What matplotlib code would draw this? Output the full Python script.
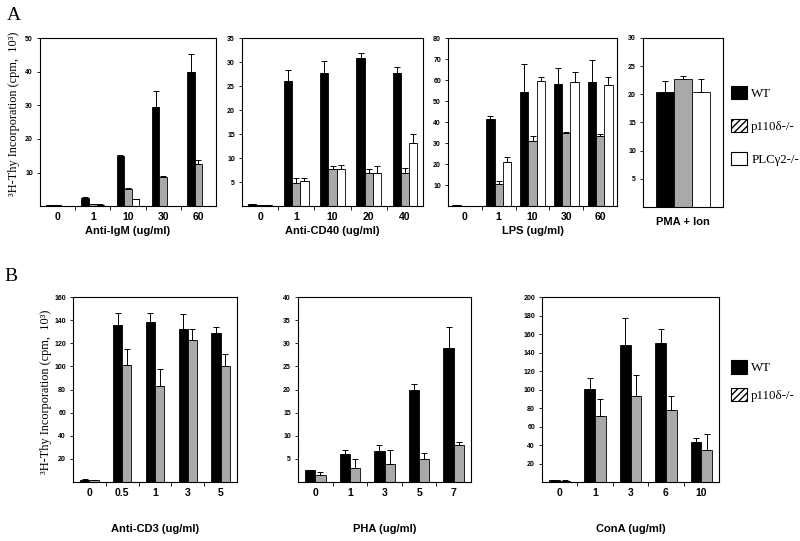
import matplotlib.pyplot as plt
from matplotlib.patches import Patch
import numpy as np

plt.rcParams.update({
    'font.family': 'Liberation Sans',
    'font.weight': 'bold',
    'axes.linewidth': 0.8,
})

SERIF = 'Liberation Serif'
BLACK = '#000000'
GRAY = '#a9a9a9'
WHITE = '#ffffff'

# ---- Panel A data (WT, p110d-/-, PLCg2-/-) ----
igm_doses = ['0', '1', '10', '30', '60']
igm_wt = [0.3, 2.4, 14.8, 29.5, 39.8]
igm_wt_err = [0.1, 0.4, 0.5, 4.9, 5.6]
igm_p110 = [0.2, 0.6, 5.0, 8.7, 12.4]
igm_p110_err = [0.1, 0.1, 0.3, 0.3, 1.4]
igm_plc = [0.0, 0.4, 2.0, 0.0, 0.0]
igm_plc_err = [0.0, 0.1, 0.0, 0.0, 0.0]

cd40_doses = ['0', '1', '10', '20', '40']
cd40_wt = [0.5, 26.1, 27.8, 30.8, 27.8]
cd40_wt_err = [0.0, 2.2, 2.5, 1.2, 1.2]
cd40_p110 = [0.3, 4.9, 7.7, 7.0, 7.0]
cd40_p110_err = [0.0, 0.9, 0.6, 0.7, 1.0]
cd40_plc = [0.2, 5.2, 7.8, 7.0, 13.1]
cd40_plc_err = [0.0, 0.6, 0.7, 1.3, 1.9]

lps_doses = ['0', '1', '10', '30', '60']
lps_wt = [0.3, 41.5, 54.4, 58.2, 59.3]
lps_wt_err = [0.0, 1.3, 13.3, 7.6, 10.4]
lps_p110 = [0.0, 10.6, 30.9, 34.9, 33.6]
lps_p110_err = [0.0, 1.3, 2.4, 0.3, 0.6]
lps_plc = [0.0, 20.9, 59.7, 59.3, 57.5]
lps_plc_err = [0.0, 2.6, 1.6, 4.6, 4.0]

pma_doses = ['']
pma_wt = [20.4]
pma_wt_err = [1.9]
pma_p110 = [22.8]
pma_p110_err = [0.4]
pma_plc = [20.4]
pma_plc_err = [2.4]

# ---- Panel B data (WT, p110d-/-) ----
cd3_doses = ['0', '0.5', '1', '3', '5']
cd3_wt = [2.0, 135.4, 138.3, 132.6, 128.5]
cd3_wt_err = [1.0, 11.0, 8.1, 12.9, 5.5]
cd3_p110 = [1.5, 100.9, 82.7, 123.0, 100.6]
cd3_p110_err = [0.3, 14.1, 15.0, 9.3, 10.4]

pha_doses = ['0', '1', '3', '5', '7']
pha_wt = [2.5, 6.0, 6.75, 19.8, 28.9]
pha_wt_err = [0.2, 1.0, 1.25, 1.5, 4.7]
pha_p110 = [1.5, 3.0, 4.0, 5.0, 8.0]
pha_p110_err = [0.6, 2.0, 3.0, 1.2, 0.7]

cona_doses = ['0', '1', '3', '6', '10']
cona_wt = [2.0, 100.2, 147.7, 150.3, 43.2]
cona_wt_err = [0.3, 12.2, 30.0, 14.7, 4.4]
cona_p110 = [1.5, 71.7, 93.0, 77.8, 35.0]
cona_p110_err = [0.3, 18.0, 22.7, 15.2, 17.0]


def draw_panel(ax, doses, series, ymax, ystep, width, xlabel, labelpad):
    """Clustered bar chart with one-sided error bars, Excel style"""
    n = len(series)
    x = np.arange(len(doses))
    for i, (vals, errs, color) in enumerate(series):
        pos = x + (i - (n - 1) / 2) * width
        ax.bar(pos, vals, width, color=color, edgecolor='black', lw=0.6, zorder=2)
        ax.errorbar(pos, vals, yerr=[np.zeros(len(errs)), errs], fmt='none',
                    ecolor='black', elinewidth=0.7, capsize=2.2, capthick=0.7, zorder=3)
    ax.set_xlim(-0.5, len(doses) - 0.5)
    ax.set_ylim(0, ymax)
    ax.set_yticks(np.arange(ystep, ymax + ystep / 2, ystep))
    ax.tick_params(axis='y', labelsize=5, length=2, width=0.6, pad=3)
    ax.set_xticks(x)
    ax.set_xticklabels(doses)
    ax.set_xticks(np.arange(0.5, len(doses) - 0.5, 1), minor=True)
    ax.tick_params(axis='x', which='major', length=0, labelsize=7.5, pad=4)
    ax.tick_params(axis='x', which='minor', length=3, width=0.6)
    ax.set_xlabel(xlabel, fontsize=8, fontweight='bold', labelpad=labelpad)


fig = plt.figure(figsize=(8, 5.41), dpi=100)

axA1 = fig.add_axes([0.05, 0.619, 0.22, 0.3105])
axA2 = fig.add_axes([0.3025, 0.619, 0.22625, 0.3105])
axA3 = fig.add_axes([0.56, 0.619, 0.21125, 0.3105])
axA4 = fig.add_axes([0.80375, 0.6174, 0.1, 0.3124])
axB1 = fig.add_axes([0.09125, 0.109, 0.205, 0.342])
axB2 = fig.add_axes([0.3725, 0.109, 0.21625, 0.342])
axB3 = fig.add_axes([0.6775, 0.109, 0.22125, 0.342])

draw_panel(axA1, igm_doses, [(igm_wt, igm_wt_err, BLACK), (igm_p110, igm_p110_err, GRAY),
                             (igm_plc, igm_plc_err, WHITE)], 50, 10, 0.215, 'Anti-IgM (ug/ml)', 3)
draw_panel(axA2, cd40_doses, [(cd40_wt, cd40_wt_err, BLACK), (cd40_p110, cd40_p110_err, GRAY),
                              (cd40_plc, cd40_plc_err, WHITE)], 35, 5, 0.225, 'Anti-CD40 (ug/ml)', 3)
draw_panel(axA3, lps_doses, [(lps_wt, lps_wt_err, BLACK), (lps_p110, lps_p110_err, GRAY),
                             (lps_plc, lps_plc_err, WHITE)], 80, 10, 0.245, 'LPS (ug/ml)', 3)
draw_panel(axA4, pma_doses, [(pma_wt, pma_wt_err, BLACK), (pma_p110, pma_p110_err, GRAY),
                             (pma_plc, pma_plc_err, WHITE)], 30, 5, 0.225, 'PMA + Ion', 3)
draw_panel(axB1, cd3_doses, [(cd3_wt, cd3_wt_err, BLACK), (cd3_p110, cd3_p110_err, GRAY)],
           160, 20, 0.28, 'Anti-CD3 (ug/ml)', 19)
draw_panel(axB2, pha_doses, [(pha_wt, pha_wt_err, BLACK), (pha_p110, pha_p110_err, GRAY)],
           40, 5, 0.3, 'PHA (ug/ml)', 19)
draw_panel(axB3, cona_doses, [(cona_wt, cona_wt_err, BLACK), (cona_p110, cona_p110_err, GRAY)],
           200, 20, 0.3, 'ConA (ug/ml)', 19)

ylabel = '\u00b3H-Thy Incorporation (cpm,  10\u00b3)'
fig.text(0.017, 1 - 114 / 541, ylabel, rotation=90, ha='center', va='center',
         family=SERIF, fontweight='normal', fontsize=8.8)
fig.text(0.057, 1 - 392 / 541, ylabel, rotation=90, ha='center', va='center',
         family=SERIF, fontweight='normal', fontsize=8.8)

fig.text(0.008, 0.972, 'A', family=SERIF, fontweight='normal', fontsize=14, va='center')
fig.text(0.005, 0.488, 'B', family=SERIF, fontweight='normal', fontsize=14, va='center')

handles_a = [Patch(fc=BLACK, ec='black', lw=0.8),
             Patch(fc=WHITE, ec='black', hatch='/////', lw=0.8),
             Patch(fc=WHITE, ec='black', lw=0.8)]
labels_a = ['WT', 'p110\u03b4-/-', 'PLC\u03b32-/-']
fig.legend(handles_a, labels_a, loc='upper left', bbox_to_anchor=(0.914, 0.841),
           frameon=False, prop={'family': SERIF, 'size': 9.3, 'weight': 'normal'},
           handlelength=1.2, handleheight=1.2, handletextpad=0.35, labelspacing=1.47,
           borderpad=0, borderaxespad=0)

fig.legend(handles_a[:2], labels_a[:2], loc='upper left', bbox_to_anchor=(0.914, 0.334),
           frameon=False, prop={'family': SERIF, 'size': 9.3, 'weight': 'normal'},
           handlelength=1.2, handleheight=1.2, handletextpad=0.35, labelspacing=1.05,
           borderpad=0, borderaxespad=0)

plt.savefig('out.png', dpi=100)
